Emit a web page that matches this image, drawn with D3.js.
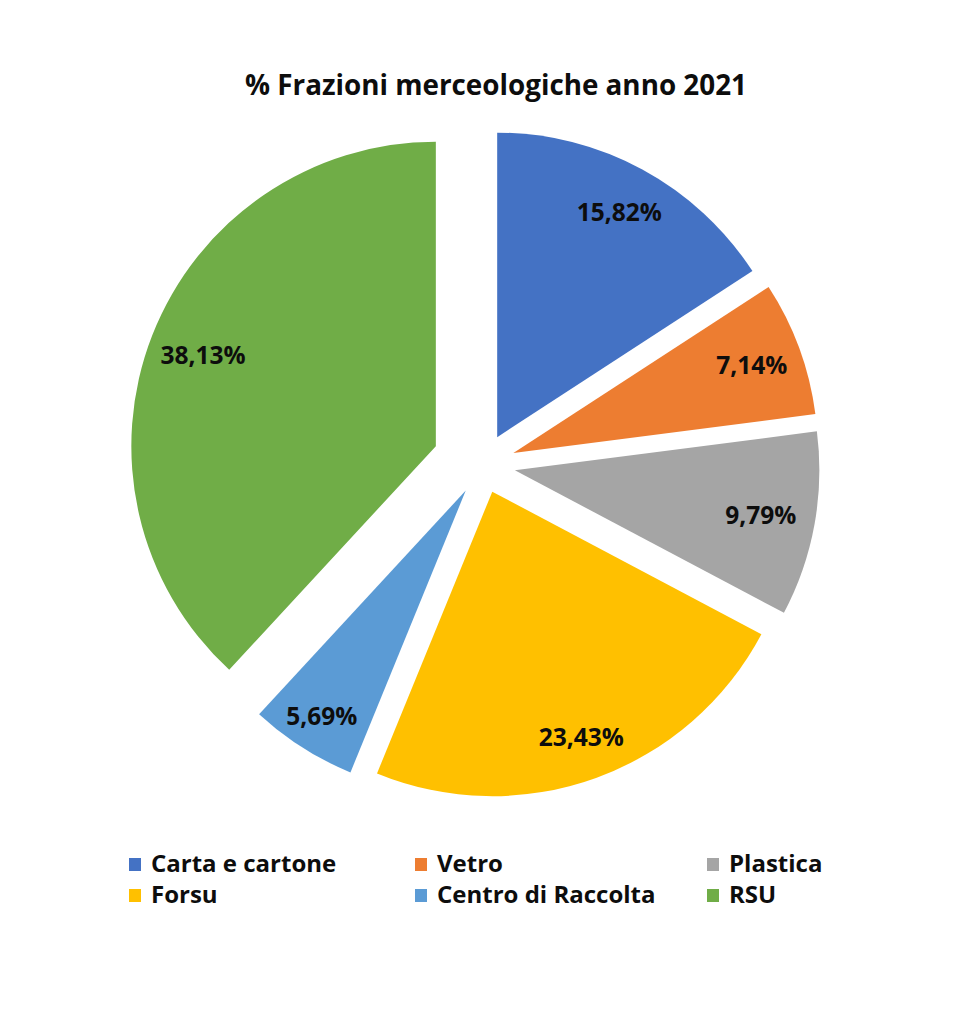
<!DOCTYPE html>
<html>
<head>
<meta charset="utf-8">
<script src="https://cdn.jsdelivr.net/npm/d3@7.9.0/dist/d3.min.js"></script>
<style>
  body { margin: 0; background: #fff; }
  svg { display: block; font-family: "Open Sans", Lato, sans-serif; }
</style>
</head>
<body>
<svg id="chart" width="963" height="1024"></svg>
<script>
const title = '% Frazioni merceologiche anno 2021';
const categories = ['Carta e cartone', 'Vetro', 'Plastica', 'Forsu', 'Centro di Raccolta', 'RSU'];
const values = [15.82, 7.14, 9.79, 23.43, 5.69, 38.13];
const colors = ['#4472C4', '#ED7D31', '#A5A5A5', '#FFC000', '#5B9BD5', '#70AD47'];

// how far each slice is pulled out, and where its label sits (px)
const explode = [31, 33, 33, 29, 31, 50];
const labelR = [256, 254, 250, 261, 268, 250];

const svg = d3.select('#chart');
const cx = 482.4, cy = 464.4, radius = 304.5;

const it = d3.formatLocale({ decimal: ',', thousands: '.', grouping: [3], currency: ['€', ''] });
const fmt = v => it.format('.2f')(v) + '%';

svg.append('text')
  .attr('x', 496).attr('y', 95)
  .attr('text-anchor', 'middle')
  .attr('font-size', 27.8).attr('font-weight', 'bold')
  .attr('fill', '#0d0d0d')
  .text(title);

const pie = d3.pie().sort(null).value(d => d.value);
const arcGen = d3.arc().innerRadius(0).outerRadius(radius);

const data = categories.map((c, i) => ({ label: c, value: values[i], color: colors[i], pull: explode[i], lr: labelR[i] }));
const arcs = pie(data);

const g = svg.append('g').attr('transform', `translate(${cx},${cy})`);

const slices = g.selectAll('g.slice')
  .data(arcs)
  .join('g')
  .attr('class', 'slice')
  .attr('transform', d => {
    let mid = (d.startAngle + d.endAngle) / 2;
    return `translate(${d.data.pull * Math.sin(mid)},${-d.data.pull * Math.cos(mid)})`;
  });

slices.append('path')
  .attr('d', arcGen)
  .attr('fill', d => d.data.color);

slices.append('text')
  .attr('transform', d => {
    let c = d3.arc().innerRadius(d.data.lr).outerRadius(d.data.lr).centroid(d);
    return `translate(${c})`;
  })
  .attr('text-anchor', 'middle')
  .attr('dy', '0.36em')
  .attr('font-size', 24.5).attr('font-weight', 'bold')
  .attr('fill', '#0d0d0d')
  .text(d => fmt(d.data.value));

// legend, 3 columns x 2 rows
const colX = [129, 415, 707];
const rowY = [872, 903];
const legend = svg.append('g');
data.forEach((d, i) => {
  let x = colX[i % 3], y = rowY[Math.floor(i / 3)];
  legend.append('rect')
    .attr('x', x).attr('y', y - 14)
    .attr('width', 12).attr('height', 13)
    .attr('fill', d.color);
  legend.append('text')
    .attr('x', x + 22).attr('y', y)
    .attr('font-size', 24).attr('font-weight', 'bold')
    .attr('fill', '#0d0d0d')
    .text(d.label);
});
</script>
</body>
</html>
